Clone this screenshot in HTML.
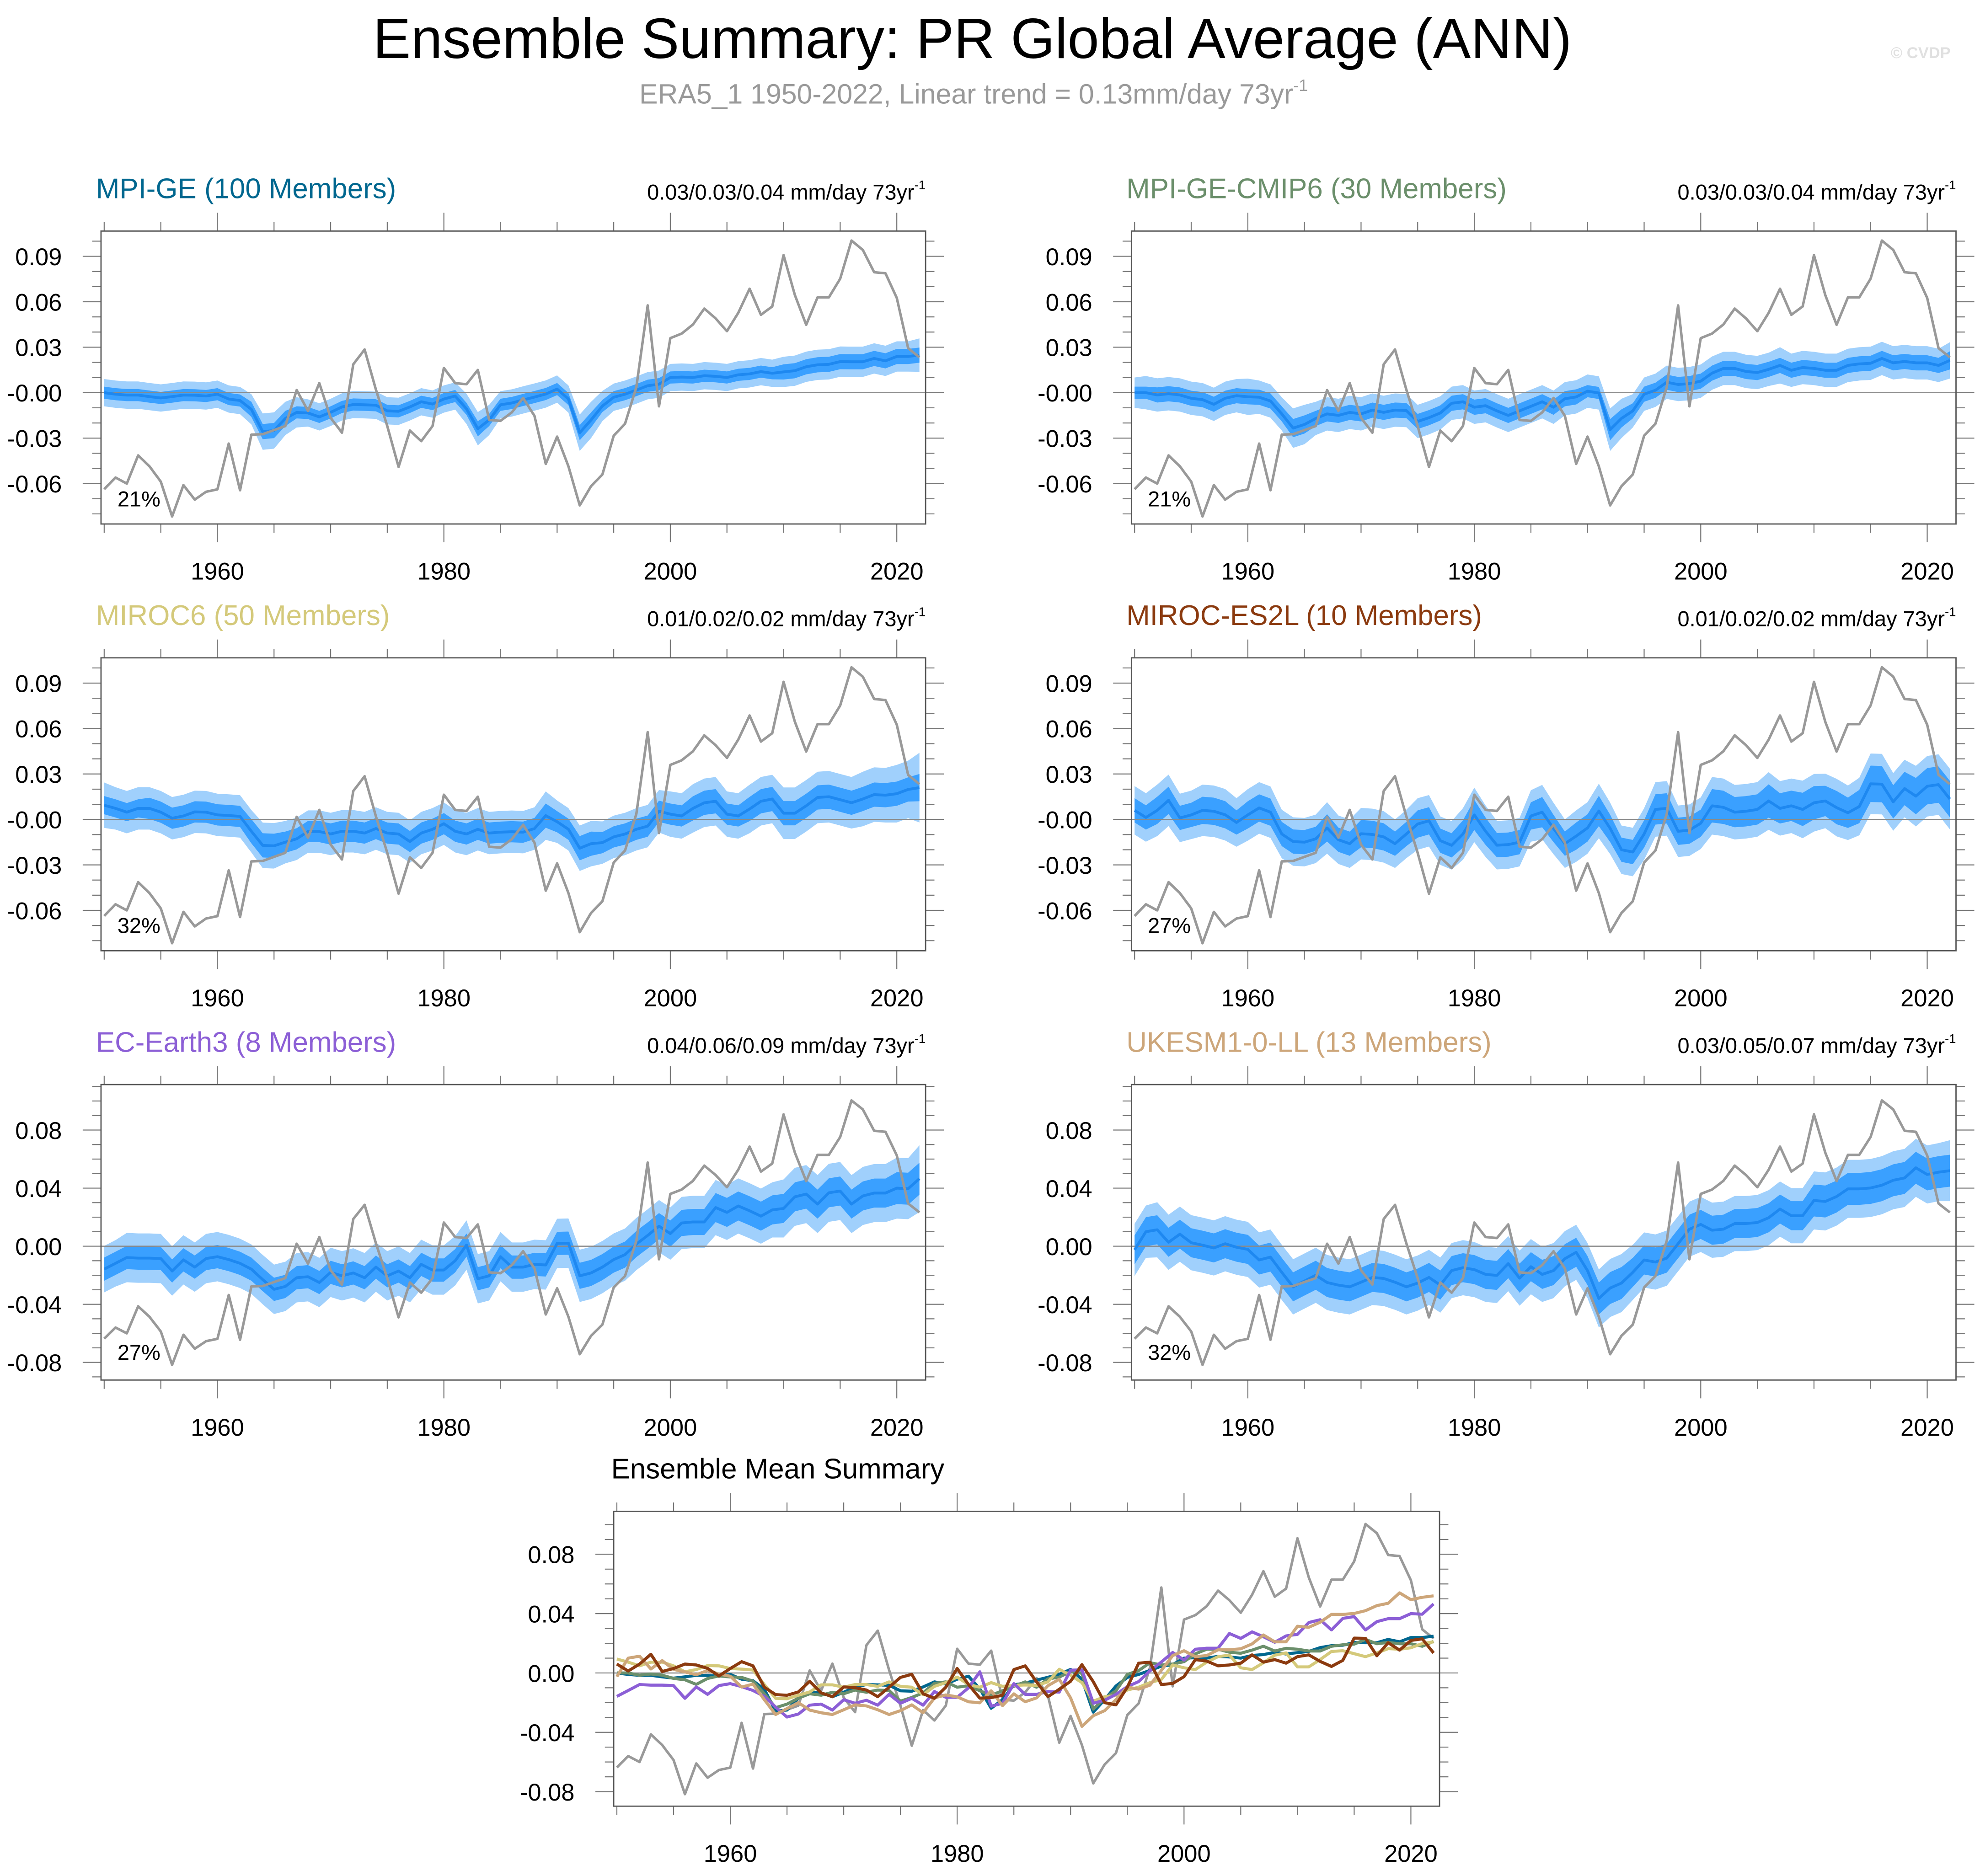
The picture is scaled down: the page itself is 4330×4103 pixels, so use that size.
<!DOCTYPE html>
<html><head><meta charset="utf-8"><title>Ensemble Summary: PR Global Average (ANN)</title>
<style>
html,body{margin:0;padding:0;background:#fff;}
svg{display:block;font-family:"Liberation Sans",Arial,sans-serif;}
</style></head>
<body>
<svg id="fig" xmlns="http://www.w3.org/2000/svg" width="4330" height="4103" viewBox="0 0 1568 1485.8">
<rect x="0" y="0" width="1568" height="1485.8" fill="#fff"/>
<text x="770" y="46" font-size="45" text-anchor="middle" fill="#000">Ensemble Summary: PR Global Average (ANN)</text>
<text x="771" y="82" font-size="22" text-anchor="middle" fill="#999">ERA5_1 1950-2022, Linear trend = 0.13mm/day 73yr<tspan font-size="13" dy="-10">-1</tspan></text>
<text x="1521" y="46" font-size="12.5" font-weight="bold" text-anchor="middle" fill="#e0e0e0">© CVDP</text>
<g id="panels"></g>
</svg>
<script>
// ---- Data (years 1950-2022) ----
const startYear = 1950;
const endYear = 2022;
const era5 = [-0.0637,-0.056,-0.060,-0.0414,-0.0486,-0.0587,-0.0817,-0.061,-0.0706,-0.0654,
 -0.0638,-0.0336,-0.0644,-0.0277,-0.0274,-0.0247,-0.022,0.0017,-0.012,0.0063,
 -0.0166,-0.0264,0.0187,0.0285,0.002,-0.022,-0.049,-0.025,-0.032,-0.022,
 0.0163,0.0063,0.0056,0.015,-0.018,-0.0186,-0.013,-0.0035,-0.0153,-0.047,
 -0.029,-0.0486,-0.0744,-0.0617,-0.054,-0.0284,-0.0205,0.0037,0.0576,-0.009,
 0.036,0.039,0.045,0.0555,0.049,0.0406,0.0527,0.0686,0.0514,0.0569,
 0.0908,0.0644,0.0448,0.0629,0.0629,0.0752,0.1004,0.0942,0.0795,0.0788,
 0.0625,0.0294,0.0233];
const meanMpiGe = [0,-0.001,-0.0016,-0.0016,-0.0026,-0.0035,-0.0026,-0.0016,-0.0017,-0.0022,
 -0.001,-0.0042,-0.0052,-0.011,-0.0257,-0.025,-0.017,-0.013,-0.0134,-0.016,
 -0.013,-0.0094,-0.0078,-0.008,-0.0083,-0.012,-0.0123,-0.0094,-0.006,-0.0075,
 -0.0042,-0.0022,-0.0107,-0.0238,-0.018,-0.008,-0.0068,-0.0048,-0.0029,-0.0009,
 0.0024,-0.0042,-0.0264,-0.018,-0.0088,-0.003,-0.001,0.0017,0.0046,0.0056,
 0.01,0.0103,0.01,0.0112,0.0108,0.01,0.0118,0.0124,0.0139,0.0128,
 0.0137,0.0145,0.0171,0.0184,0.0187,0.0205,0.0204,0.0204,0.0226,0.021,
 0.0239,0.0239,0.0248];
const meanMpiCmip6 = [0,0,-0.0015,-0.0007,-0.0015,-0.0037,-0.0046,-0.0077,-0.0037,-0.002,
 -0.0027,-0.003,-0.0055,-0.014,-0.0234,-0.021,-0.017,-0.014,-0.015,-0.013,
 -0.014,-0.0115,-0.013,-0.0115,-0.0118,-0.019,-0.0165,-0.0134,-0.007,-0.006,
 -0.0096,-0.0086,-0.012,-0.015,-0.012,-0.009,-0.006,-0.0096,-0.004,-0.0028,
 0.001,-0.0002,-0.0244,-0.017,-0.012,-0.001,0.0016,0.0069,0.0054,0.006,
 0.0076,0.0129,0.016,0.016,0.014,0.0133,0.0154,0.018,0.0148,0.0166,
 0.016,0.0148,0.0148,0.018,0.019,0.0194,0.0226,0.0197,0.0206,0.0197,
 0.0197,0.018,0.0213];
const meanMiroc6 = [0.0094,0.0073,0.0048,0.0073,0.0073,0.0048,0.0008,0.0023,0.005,0.0048,
 0.003,0.0026,0.002,-0.0078,-0.0171,-0.0174,-0.015,-0.0128,-0.008,-0.008,
 -0.0096,-0.0078,-0.0078,-0.009,-0.006,-0.009,-0.0096,-0.0146,-0.009,-0.0065,
 -0.0028,-0.0078,-0.0096,-0.0065,-0.009,-0.0084,-0.0081,-0.0084,-0.006,0.0025,
 -0.0015,-0.0065,-0.019,-0.016,-0.0153,-0.0115,-0.0096,-0.0065,-0.0044,0.0054,
 0.0035,0.0023,0.0073,0.011,0.012,0.0035,0.0023,0.0069,0.012,0.0135,
 0.0041,0.0041,0.009,0.0145,0.015,0.013,0.011,0.0135,0.0164,0.016,
 0.017,0.0198,0.021];
const meanMirocEs2l = [0.006,0.0013,0.006,0.0126,0.001,0.003,0.006,0.0054,0.0031,-0.002,
 0.003,0.0076,0.0048,-0.0096,-0.0146,-0.015,-0.0128,-0.0056,-0.0134,-0.016,
 -0.0094,-0.0099,-0.0115,-0.016,-0.0096,-0.003,-0.0009,-0.014,-0.0171,-0.0096,
 0.003,-0.0078,-0.017,-0.0166,-0.015,0.0023,0.0048,-0.006,-0.016,-0.011,
 -0.0056,0.0056,-0.0059,-0.02,-0.0215,-0.0096,0.0066,0.0073,-0.0078,-0.0071,
 -0.0025,0.009,0.008,0.0048,0.0054,0.0066,0.0122,0.0073,0.009,0.0066,
 0.011,0.0122,0.0078,0.0044,0.0085,0.0235,0.0233,0.0116,0.0204,0.0154,
 0.0219,0.023,0.0135];
const meanEcEarth3 = [-0.0158,-0.0118,-0.0078,-0.0082,-0.0082,-0.0085,-0.0171,-0.0094,-0.0144,-0.0085,
 -0.0072,-0.0092,-0.0118,-0.0158,-0.023,-0.0297,-0.0277,-0.0217,-0.021,-0.025,
 -0.018,-0.0204,-0.0184,-0.0217,-0.0144,-0.0204,-0.0171,-0.0217,-0.0125,-0.0164,
 -0.0164,-0.01,0.0008,-0.0224,-0.0204,-0.0072,-0.0144,-0.0144,-0.0125,-0.0129,
 0.0019,0.0021,-0.0204,-0.0184,-0.0144,-0.0092,-0.0058,0.0015,0.0074,0.0138,
 0.0087,0.016,0.0167,0.0167,0.0266,0.0233,0.0277,0.0244,0.0207,0.025,
 0.026,0.034,0.0359,0.029,0.0368,0.038,0.029,0.0346,0.0366,0.0366,
 0.04,0.0396,0.0465];
const meanUkesm = [-0.0025,0.01,0.0113,0.0027,0.0083,0.0024,0.0007,-0.0012,0.0017,-0.0007,
 -0.0022,-0.0095,-0.0075,-0.018,-0.028,-0.024,-0.020,-0.025,-0.0268,-0.028,
 -0.0248,-0.0215,-0.0222,-0.0248,-0.028,-0.0254,-0.0215,-0.0268,-0.0168,-0.0148,
 -0.0161,-0.0194,-0.0201,-0.012,-0.022,-0.0141,-0.0194,-0.0168,-0.0086,-0.0042,
 -0.0168,-0.036,-0.0288,-0.0254,-0.018,-0.0095,-0.0109,-0.0082,0.0017,0.0117,
 0.015,0.011,0.0117,0.0156,0.0156,0.0163,0.0196,0.0256,0.021,0.021,
 0.0315,0.0308,0.0342,0.0395,0.0395,0.0401,0.042,0.0454,0.047,0.054,
 0.0494,0.051,0.052];
// spread half-widths in units of 0.001 (dark = inner band, light = outer band)
const darkMpiGe = [4,4,4,4,4,4,4,4,4,4, 4,4,4,5,5,5,5,4,4,4, 4,4,4,4,4,4,4,4,4,4, 4,4,4,5,4,4,4,4,4,4, 4,4,5,5,4,4,4,4,4,4, 4,4,4,4,4,4,4,4,4,4, 5,5,5,5,5,5,5,5,5,5, 5,5,5];
const lightMpiGe = [9,9,9,9,9,9,9,9,9,9, 9,9,9,10,12,12,11,10,9,9, 9,9,9,9,9,9,9,9,9,9, 9,9,10,11,10,9,9,9,9,9, 9,9,12,12,10,9,9,9,9,9, 9,9,9,9,9,9,9,9,9,9, 10,10,10,10,10,10,10,10,10,10, 10,10,11];
const darkMpiCmip6 = [4,4,5,5,5,5,5,5,5,5, 5,5,5,5,6,6,5,5,5,5, 5,5,5,5,5,5,5,5,5,5, 5,5,5,5,5,5,5,5,5,5, 4,4,7,6,5,5,5,5,5,5, 5,5,5,5,5,5,5,5,5,5, 5,5,5,5,5,5,5,5,5,5, 5,5,6];
const lightMpiCmip6 = [10,11,11,11,11,11,11,11,11,11, 12,11,11,11,13,13,11,11,11,11, 11,11,11,11,11,11,11,11,11,11, 11,11,11,11,11,11,11,11,11,11, 11,11,14,13,11,11,11,11,11,11, 11,11,11,11,11,11,11,12,11,11, 11,11,11,11,11,11,11,11,11,11, 11,11,12];
const darkMiroc6 = [6,6,6,6,7,7,7,7,7,7, 7,7,7,8,8,8,7,7,7,7, 7,7,7,7,7,7,7,7,7,7, 7,7,7,7,7,7,7,7,7,8, 7,7,8,8,7,7,7,7,7,7, 7,7,8,8,8,7,7,8,8,8, 8,8,8,8,8,8,8,8,8,8, 8,8,9];
const lightMiroc6 = [15,14,14,14,14,14,14,14,14,14, 14,14,14,14,15,15,14,14,14,14, 14,14,14,14,14,14,14,14,14,14, 14,14,14,14,14,14,14,14,14,16, 14,14,15,15,14,14,14,14,14,14, 15,15,16,16,16,15,15,16,16,16, 17,17,17,17,17,17,17,18,18,18, 19,19,23];
const darkMirocEs2l = [8,8,9,9,8,8,9,9,9,8, 9,9,9,8,8,8,8,9,8,8, 9,9,9,8,8,9,9,8,8,9, 10,9,8,8,8,9,10,9,8,9, 9,10,9,8,8,9,10,10,9,9, 9,11,11,10,10,10,11,10,10,11, 11,10,11,10,11,12,12,11,11,12, 12,12,12];
const lightMirocEs2l = [16,16,17,17,16,16,17,17,17,16, 17,17,17,16,16,16,16,17,16,16, 17,17,17,16,16,17,17,16,16,17, 18,17,16,16,16,17,18,17,16,17, 17,18,17,16,16,17,18,18,17,17, 17,19,19,18,18,18,19,18,18,19, 19,18,19,18,19,20,20,19,19,20, 20,20,20];
const darkEcEarth3 = [8,8,8,8,8,8,8,8,8,8, 8,8,8,8,8,8,8,8,8,8, 8,8,8,8,8,8,8,8,8,8, 8,8,8,8,8,8,8,8,8,8, 8,8,9,9,9,9,9,9,9,9, 9,9,9,9,10,10,10,10,10,10, 10,10,10,10,10,10,10,10,10,10, 11,11,11];
const lightEcEarth3 = [16,16,17,17,17,17,17,17,17,17, 17,17,17,17,17,17,17,17,17,17, 17,17,17,17,17,17,17,17,17,17, 17,17,17,17,17,17,17,17,17,17, 17,17,18,18,18,18,18,18,18,18, 18,18,18,18,19,19,19,19,19,19, 20,20,20,20,20,20,20,20,20,20, 21,21,23];
const darkUkesm = [10,10,10,10,10,10,10,10,10,10, 10,10,10,10,10,10,10,10,10,10, 10,10,10,10,10,10,10,10,10,10, 10,10,10,10,10,10,10,10,10,10, 10,11,11,11,10,10,10,10,10,10, 10,10,10,10,10,10,10,10,10,10, 11,11,11,11,11,11,11,11,11,11, 11,11,11];
const lightUkesm = [18,18,19,19,19,19,19,19,19,19, 19,19,19,19,19,19,19,19,19,19, 19,19,19,19,19,19,19,19,19,19, 19,19,19,19,19,19,19,19,19,19, 19,20,20,20,19,19,19,19,19,19, 19,19,19,19,19,19,19,19,19,19, 20,20,20,20,20,20,20,20,20,20, 20,20,21];
const tickYearsMajor = [1960, 1980, 2000, 2020];
const tickLabelsA = ["0.09","0.06","0.03","-0.00","-0.03","-0.06"];
const tickValuesA = [0.09,0.06,0.03,0,-0.03,-0.06];
const tickLabelsB = ["0.08","0.04","0.00","-0.04","-0.08"];
const tickValuesB = [0.08,0.04,0,-0.04,-0.08];

const NS = "http://www.w3.org/2000/svg";
const root = document.getElementById("panels");
function mk(tag, attrs, parent){ const e=document.createElementNS(NS,tag); for(const k in attrs) e.setAttribute(k,attrs[k]); (parent||root).appendChild(e); return e; }

const years = [];
for (let y = startYear; y <= endYear; y++) years.push(y);

function xAxisFn(L){ const x0=L+2.5, k=(L===486?8.983:8.967); return yr => x0 + (yr-startYear)*k; }
function yAxisFn(zero, k){ return v => zero - v*k; }

function drawFrame(g, L, T, W, H, xs, ys, tickValues, tickLabels, yMin, yMax){
  const z = mk("line",{x1:L,x2:L+W,y1:ys(0),y2:ys(0),stroke:"#8a8a8a","stroke-width":0.9},g);
  
  
  for (let yr=1950; yr<=2020; yr+=5){
    const x=xs(yr), major=tickYearsMajor.includes(yr), len=major?14.5:7;
    mk("line",{x1:x,x2:x,y1:T,y2:T-len,stroke:"#777","stroke-width":0.8},g);
    mk("line",{x1:x,x2:x,y1:T+H,y2:T+H+len,stroke:"#777","stroke-width":0.8},g);
  }
  tickYearsMajor.forEach(yr=>{
    const t=mk("text",{x:xs(yr),y:T+H+44,"font-size":19,"text-anchor":"middle",fill:"#000"},g);
    t.textContent=yr;
    
    
  });
  for (let i=Math.ceil(yMin*100); i<=Math.floor(yMax*100); i++){
    const v=i/100, y=ys(v);
    const isMajor = tickValues.some(t=>Math.abs(t-v)<1e-6);
    const len=isMajor?14.5:7;
    mk("line",{x1:L,x2:L-len,y1:y,y2:y,stroke:"#777","stroke-width":0.8},g);
    mk("line",{x1:L+W,x2:L+W+len,y1:y,y2:y,stroke:"#777","stroke-width":0.8},g);
  }
  tickValues.forEach((v,i)=>{
    const t=mk("text",{x:L-31,y:ys(v)+7,"font-size":19,"text-anchor":"end",fill:"#000"},g);
    t.textContent=tickLabels[i];
    
    
  });
  const f=mk("rect",{x:L,y:T,width:W,height:H,fill:"none",stroke:"#555","stroke-width":1},g);
  
  
}

function linePath(xs, ys, vals){ return vals.map((v,i)=>(i?"L":"M")+xs(years[i]).toFixed(2)+","+ys(v).toFixed(2)).join(""); }
function bandPath(xs, ys, mean, half){
  let d="";
  mean.forEach((m,i)=>{ d+=(i?"L":"M")+xs(years[i]).toFixed(2)+","+ys(m+half[i]/1000).toFixed(2); });
  for (let i=mean.length-1;i>=0;i--) d+="L"+xs(years[i]).toFixed(2)+","+ys(mean[i]-half[i]/1000).toFixed(2);
  return d+"Z";
}

const panels = [
 {name:"mpi-ge-panel", title:"MPI-GE (100 Members)", color:"#00678f", trend:"0.03/0.03/0.04", pct:"21%", L:80, T:183, mean:meanMpiGe, dk:darkMpiGe, lt:lightMpiGe, scale:"A"},
 {name:"mpi-ge-cmip6-panel", title:"MPI-GE-CMIP6 (30 Members)", color:"#6b8f6b", trend:"0.03/0.03/0.04", pct:"21%", L:896, T:183, mean:meanMpiCmip6, dk:darkMpiCmip6, lt:lightMpiCmip6, scale:"A"},
 {name:"miroc6-panel", title:"MIROC6 (50 Members)", color:"#d4c97a", trend:"0.01/0.02/0.02", pct:"32%", L:80, T:521, mean:meanMiroc6, dk:darkMiroc6, lt:lightMiroc6, scale:"A"},
 {name:"miroc-es2l-panel", title:"MIROC-ES2L (10 Members)", color:"#8b3a0f", trend:"0.01/0.02/0.02", pct:"27%", L:896, T:521, mean:meanMirocEs2l, dk:darkMirocEs2l, lt:lightMirocEs2l, scale:"A"},
 {name:"ec-earth3-panel", title:"EC-Earth3 (8 Members)", color:"#8c5fd6", trend:"0.04/0.06/0.09", pct:"27%", L:80, T:859, mean:meanEcEarth3, dk:darkEcEarth3, lt:lightEcEarth3, scale:"B"},
 {name:"ukesm1-0-ll-panel", title:"UKESM1-0-LL (13 Members)", color:"#cda67a", trend:"0.03/0.05/0.07", pct:"32%", L:896, T:859, mean:meanUkesm, dk:darkUkesm, lt:lightUkesm, scale:"B"}
];

panels.forEach(p=>{
  const g=mk("g",{});
  
  
  const W=653, H=(p.scale==="A"?232:234);
  const k=(p.scale==="A"?1200:1150), zero=p.T+128;
  const xs=xAxisFn(p.L), ys=yAxisFn(zero,k);
  const yMin=-(p.T+H-zero)/k, yMax=(zero-p.T)/k;
  const lb=mk("path",{d:bandPath(xs,ys,p.mean,p.lt),fill:"#a0d0fc",stroke:"none"},g);
  
  
  const db=mk("path",{d:bandPath(xs,ys,p.mean,p.dk),fill:"#3aa0ff",stroke:"none"},g);
  
  
  drawFrame(g,p.L,p.T,W,H,xs,ys,p.scale==="A"?tickValuesA:tickValuesB,p.scale==="A"?tickLabelsA:tickLabelsB,yMin,yMax);
  const ml=mk("path",{d:linePath(xs,ys,p.mean),fill:"none",stroke:"#1e88f0","stroke-width":2.2,"stroke-linejoin":"round"},g);
  
  
  const ol=mk("path",{d:linePath(xs,ys,era5),fill:"none",stroke:"#999","stroke-width":2,"stroke-linejoin":"round"},g);
  
  
  const tt=mk("text",{x:p.L-4,y:p.T-26,"font-size":22.4,fill:p.color},g);
  tt.textContent=p.title;
  
  
  const tr=mk("text",{x:p.L+W,y:p.T-25,"font-size":17,"text-anchor":"end",fill:"#000"},g);
  tr.textContent=p.trend+" mm/day 73yr";
  const sup=mk("tspan",{"font-size":10,dy:-8},tr);
  sup.textContent="-1";
  
  
  const pc=mk("text",{x:p.L+13,y:p.T+218,"font-size":17,fill:"#000"},g);
  pc.textContent=p.pct;
  
  
});

(function(){
  const g=mk("g",{});
  
  
  const L=486, T=1197, W=654, H=233.5, k=1175, zero=T+128;
  const xs=xAxisFn(L), ys=yAxisFn(zero,k);
  drawFrame(g,L,T,W,H,xs,ys,tickValuesB,tickLabelsB,-(T+H-zero)/k,(zero-T)/k);
  const ttl=mk("text",{x:L-2,y:T-26,"font-size":22.4,fill:"#000"},g);
  ttl.textContent="Ensemble Mean Summary";
  
  
  const ol=mk("path",{d:linePath(xs,ys,era5),fill:"none",stroke:"#999","stroke-width":2,"stroke-linejoin":"round"},g);
  
  
  const series=[["mpi-ge-mean-line",meanMpiGe,"#00678f"],["mpi-ge-cmip6-mean-line",meanMpiCmip6,"#6b8f6b"],["miroc6-mean-line",meanMiroc6,"#d4c97a"],["ec-earth3-mean-line",meanEcEarth3,"#8c5fd6"],["ukesm1-0-ll-mean-line",meanUkesm,"#cda67a"],["miroc-es2l-mean-line",meanMirocEs2l,"#8b3a0f"]];
  series.forEach(s=>{
    const p=mk("path",{d:linePath(xs,ys,s[1]),fill:"none",stroke:s[2],"stroke-width":2.4,"stroke-linejoin":"round"},g);
    
    
  });
})();
</script>
</body></html>
